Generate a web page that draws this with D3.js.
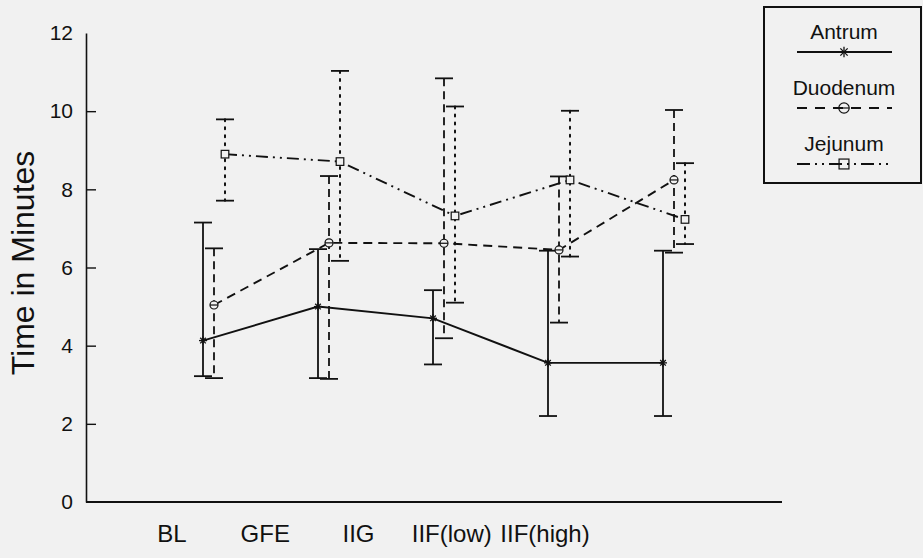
<!DOCTYPE html>
<html lang="en">
<head>
<meta charset="utf-8">
<title>Time in Minutes by condition</title>
<script src="https://d3js.org/d3.v7.min.js"></script>
<style>
body { margin: 0; background: #f1f1f1; }
text { font-family: "Liberation Sans", Arial, sans-serif; fill: #111; }
</style>
</head>
<body>
<div id="chart"></div>
<script>

// categories and values
var categories = ["BL", "GFE", "IIG", "IIF(low)", "IIF(high)"];
var seriesNames = ["Antrum", "Duodenum", "Jejunum"];

var antrumMean  = [4.13, 5.00, 4.70, 3.56, 3.56];
var antrumHigh  = [7.15, 6.47, 5.42, 6.43, 6.43];
var antrumLow   = [3.22, 3.17, 3.52, 2.20, 2.20];

var duodenumMean = [5.04, 6.63, 6.62, 6.45, 8.24];
var duodenumHigh = [6.49, 8.34, 10.84, 8.33, 10.03];
var duodenumLow  = [3.17, 3.15, 4.19, 4.59, 6.38];

var jejunumMean = [8.90, 8.71, 7.32, 8.24, 7.23];
var jejunumHigh = [9.79, 11.03, 10.12, 10.01, 8.67];
var jejunumLow  = [7.71, 6.17, 5.10, 6.28, 6.60];

var yTicks = [0, 2, 4, 6, 8, 10, 12];

var width = 923, height = 558;
var ink = "#111";
var bg = "#f1f1f1";

// styles for each series: line dash, error bar dash, x offset, marker
var styles = {
  Antrum:   { line: null,              bar: null,  shift: 0,  marker: "star" },
  Duodenum: { line: "9,6",             bar: "8,5", shift: 11, marker: "circle" },
  Jejunum:  { line: "12,5,2,5,2,5",    bar: "2,6", shift: 22, marker: "square" }
};

var series = [
  { name: "Antrum",   mean: antrumMean,   high: antrumHigh,   low: antrumLow },
  { name: "Duodenum", mean: duodenumMean, high: duodenumHigh, low: duodenumLow },
  { name: "Jejunum",  mean: jejunumMean,  high: jejunumHigh,  low: jejunumLow }
];

var svg = d3.select("#chart")
  .append("svg")
    .attr("width", width)
    .attr("height", height)
    .style("background", bg);

var x = d3.scalePoint().domain(categories).range([203, 663]);
var xLabel = d3.scalePoint().domain(categories).range([172, 545]);
var y = d3.scaleLinear().domain([0, 12]).range([502, 33]);

// y axis, ticks pointing inward
var yAxis = svg.append("g")
  .attr("transform", "translate(86,0)")
  .call(d3.axisLeft(y).tickValues(yTicks).tickSizeInner(-10).tickSizeOuter(0).tickPadding(13));
yAxis.select(".domain").attr("stroke", ink).attr("stroke-width", 1.6);
yAxis.selectAll(".tick line").attr("stroke", ink).attr("stroke-width", 1.4)
  .filter(function(d) { return d === 12 || d === 0; }).remove();
yAxis.selectAll(".tick text")
  .attr("font-size", 21)
  .attr("font-family", "Liberation Sans, Arial, sans-serif")
  .attr("fill", ink);

// x axis line
svg.append("line")
  .attr("x1", 86).attr("x2", 782)
  .attr("y1", y(0)).attr("y2", y(0))
  .attr("stroke", ink).attr("stroke-width", 1.8);

svg.selectAll(".xlab")
  .data(categories)
  .enter().append("text")
    .attr("class", "xlab")
    .attr("x", function(d) { return xLabel(d); })
    .attr("y", 542)
    .attr("text-anchor", "middle")
    .attr("font-size", 24)
    .text(function(d) { return d; });

svg.append("text")
  .attr("transform", "translate(34,263) rotate(-90)")
  .attr("text-anchor", "middle")
  .attr("font-size", 32)
  .text("Time in Minutes");

function drawMarker(g, type, cx, cy, scale, filled) {
  if (type === "star") {
    var r = 4 * scale;
    [[-r, 0, r, 0], [0, -r, 0, r], [-r * .7, -r * .7, r * .7, r * .7], [-r * .7, r * .7, r * .7, -r * .7]]
      .forEach(function(s) {
        g.append("line")
          .attr("x1", cx + s[0]).attr("y1", cy + s[1])
          .attr("x2", cx + s[2]).attr("y2", cy + s[3])
          .attr("stroke", ink).attr("stroke-width", 1.3);
      });
  } else if (type === "circle") {
    g.append("circle")
      .attr("cx", cx).attr("cy", cy).attr("r", 4 * scale)
      .attr("fill", filled ? bg : "none")
      .attr("stroke", ink).attr("stroke-width", 1.2);
    g.append("line")
      .attr("x1", cx - 4 * scale).attr("x2", cx + 4 * scale)
      .attr("y1", cy).attr("y2", cy)
      .attr("stroke", ink).attr("stroke-width", 1.2);
  } else {
    var h = 3.8 * scale;
    g.append("rect")
      .attr("x", cx - h).attr("y", cy - h)
      .attr("width", 2 * h).attr("height", 2 * h)
      .attr("fill", filled ? bg : "none")
      .attr("stroke", ink).attr("stroke-width", 1.2);
  }
}

// error bars, lines and markers
series.forEach(function(s) {
  var st = styles[s.name];
  var g = svg.append("g").attr("class", "series-" + s.name);
  var px = function(i) { return x(categories[i]) + st.shift; };

  categories.forEach(function(c, i) {
    g.append("line")
      .attr("x1", px(i)).attr("x2", px(i))
      .attr("y1", y(s.high[i])).attr("y2", y(s.low[i]))
      .attr("stroke", ink).attr("stroke-width", st.bar === "2,6" ? 2 : 1.8)
      .attr("stroke-linecap", st.bar === "2,6" ? "round" : "butt")
      .attr("stroke-dasharray", st.bar);
    [s.high[i], s.low[i]].forEach(function(v) {
      g.append("line")
        .attr("x1", px(i) - 9).attr("x2", px(i) + 9)
        .attr("y1", y(v)).attr("y2", y(v))
        .attr("stroke", ink).attr("stroke-width", 1.8);
    });
  });

  g.append("path")
    .datum(s.mean)
    .attr("fill", "none")
    .attr("stroke", ink)
    .attr("stroke-width", 1.9)
    .attr("stroke-dasharray", st.line)
    .attr("d", d3.line()
      .x(function(d, i) { return px(i); })
      .y(function(d) { return y(d); }));

  s.mean.forEach(function(v, i) {
    drawMarker(g, st.marker, px(i), y(v), 1, true);
  });
});

// legend
var legend = svg.append("g").attr("class", "legend");
legend.append("rect")
  .attr("x", 764).attr("y", 7)
  .attr("width", 157).attr("height", 176)
  .attr("fill", bg)
  .attr("stroke", ink).attr("stroke-width", 2);

seriesNames.forEach(function(name, i) {
  var st = styles[name];
  var ly = 52 + i * 56;
  legend.append("text")
    .attr("x", 844).attr("y", ly - 13)
    .attr("text-anchor", "middle")
    .attr("font-size", 21)
    .text(name);
  legend.append("line")
    .attr("x1", 797).attr("x2", 892)
    .attr("y1", ly).attr("y2", ly)
    .attr("stroke", ink).attr("stroke-width", 1.9)
    .attr("stroke-dasharray", name === "Duodenum" ? "10,8" : (name === "Jejunum" ? "13,5,2,5,2,5" : null));
  drawMarker(legend, st.marker, 844, ly, 1.3, false);
});

</script>
</body>
</html>
